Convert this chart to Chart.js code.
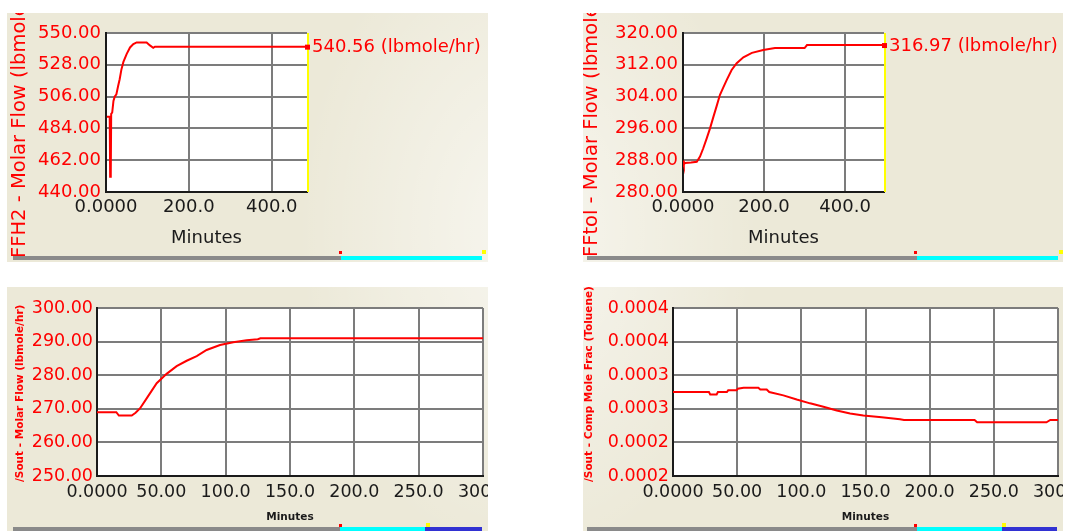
<!DOCTYPE html>
<html lang="en">
<head>
<meta charset="UTF-8">
<title>Strip charts - feed and product flows</title>
<script src="https://cdn.jsdelivr.net/npm/chart.js"></script>
<style>
  body {
    margin: 0;
    width: 1065px;
    height: 531px;
    overflow: hidden;
    position: relative;
    background: #ffffff;
  }
  /* beige strip-chart window, with the faint light sunburst behind the page */
  .panel {
    position: absolute;
    background:
      radial-gradient(ellipse 230px 330px at 528px 230px, rgba(255,255,255,0.6), rgba(255,255,255,0)) fixed,
      #ece9d8;
  }
  .panel canvas { display: block; }
</style>
</head>
<body>

<div class="panel" style="left:7px;top:13px;width:481px;height:249px">
  <canvas id="chartFFH2" width="481" height="249"></canvas>
</div>
<div class="panel" style="left:583px;top:13px;width:480px;height:249px">
  <canvas id="chartFFtol" width="480" height="249"></canvas>
</div>
<div class="panel" style="left:7px;top:287px;width:481px;height:244px">
  <canvas id="chartSoutFlow" width="481" height="244"></canvas>
</div>
<div class="panel" style="left:583px;top:287px;width:480px;height:244px">
  <canvas id="chartSoutTol" width="480" height="244"></canvas>
</div>

<script>
// ---- data (minutes vs. trend value) ----

// FFH2 molar flow, lbmole/hr
const ffh2Min  = [2, 5, 9, 10, 11.5, 12.5, 15, 18, 21, 25, 29, 33, 37, 42, 50, 58, 66, 74, 98, 106, 114, 118, 485];
const ffh2Flow = [492, 492, 492, 450.5, 452, 494, 495, 503, 506, 507.5, 513, 518, 524.5, 530, 535.6, 540, 542.3, 543.5, 543.5, 541.4, 539.8, 540.56, 540.56];

// FFtol molar flow, lbmole/hr
const fftolMin  = [0, 2, 5, 20, 34, 42, 50, 58.5, 66.7, 75, 83, 91, 99.5, 108, 120, 132.5, 149, 170, 198, 227, 300, 306, 496];
const fftolFlow = [287.9, 286.9, 287.3, 287.4, 287.6, 288.9, 291, 293.5, 296, 298.9, 301.6, 304.4, 306.3, 308.2, 310.7, 312.4, 313.9, 315, 315.7, 316.2, 316.2, 316.97, 316.97];

// Sout molar flow, lbmole/hr
const soutMin  = [0, 15, 17, 27, 30, 33.4, 38.6, 46.4, 54.1, 61.9, 69.7, 77.5, 85.2, 95.6, 105.9, 116.3, 125, 127, 300];
const soutFlow = [269, 269, 268, 268, 268.8, 270.1, 273.1, 277.6, 280.4, 282.7, 284.3, 285.7, 287.5, 289, 289.8, 290.4, 290.7, 291, 291];

// Sout toluene mole fraction
const tolMin  = [0, 28, 29, 34, 35, 42, 43, 49.6, 50.5, 55, 66.5, 68, 73, 75, 86, 96.4, 106.8, 117.2, 127.6, 138, 148.3, 162.6, 176.9, 180, 235, 237, 291, 294, 300];
const tolFrac = [0.0003, 0.0003, 0.000297, 0.000297, 0.0003, 0.0003, 0.000302, 0.000302, 0.000304, 0.000305, 0.000305, 0.000303, 0.000303, 0.0003, 0.000296, 0.000291, 0.0002865, 0.0002825, 0.000278, 0.0002745, 0.000272, 0.00027, 0.0002675, 0.0002667, 0.0002667, 0.000264, 0.000264, 0.0002667, 0.0002667];

// ---- axis ticks and their labels ----
const xTicksLong   = [0, 200, 400];
const xLabelsLong  = ['0.0000', '200.0', '400.0'];
const xTicksShort  = [0, 50, 100, 150, 200, 250, 300];
const xLabelsShort = ['0.0000', '50.00', '100.0', '150.0', '200.0', '250.0', '300.0'];

const ffh2Ticks   = [440, 462, 484, 506, 528, 550];
const ffh2Labels  = ['440.00', '462.00', '484.00', '506.00', '528.00', '550.00'];
const fftolTicks  = [280, 288, 296, 304, 312, 320];
const fftolLabels = ['280.00', '288.00', '296.00', '304.00', '312.00', '320.00'];
const soutTicks   = [250, 260, 270, 280, 290, 300];
const soutLabels  = ['250.00', '260.00', '270.00', '280.00', '290.00', '300.00'];
const tolTicks    = [0.0002, 0.00024, 0.00028, 0.00032, 0.00036, 0.0004];
const tolLabels   = ['0.0002', '0.0002', '0.0003', '0.0003', '0.0004', '0.0004'];

const RED = '#ff0000';
const GRID = '#7c7c7c';
const AXIS = '#1a1a1a';
const FONT = 'DejaVu Sans';

// white plot field, axis titles, live value readout and the scroll bar under each trend
const stripDecor = {
  id: 'stripDecor',
  beforeDraw(chart) {
    const {ctx, chartArea: a} = chart;
    ctx.save();
    ctx.fillStyle = '#ffffff';
    ctx.fillRect(a.left, a.top, a.right - a.left, a.bottom - a.top);
    ctx.restore();
  },
  afterDatasetsDraw(chart, args, o) {
    const {ctx, chartArea: a} = chart;
    if (!o.readout) return;
    const pts = chart.data.datasets[0].data;
    const last = pts[pts.length - 1].y;
    const py = chart.scales.y.getPixelForValue(last);
    ctx.save();
    // trend cursor at the right edge
    ctx.strokeStyle = '#ffff00';
    ctx.lineWidth = 2;
    ctx.beginPath();
    ctx.moveTo(a.right + 1, a.top);
    ctx.lineTo(a.right + 1, a.bottom);
    ctx.stroke();
    ctx.fillStyle = RED;
    ctx.fillRect(a.right - 2, py - 2, 5, 5);
    ctx.font = o.readoutSize + 'px "' + FONT + '"';
    ctx.textAlign = 'left';
    ctx.textBaseline = 'middle';
    ctx.fillText(last.toFixed(2) + ' ' + o.unit, a.right + 5, py + 1);
    ctx.restore();
  },
  afterDraw(chart, args, o) {
    const {ctx, chartArea: a} = chart;
    ctx.save();
    // y title runs upward from its start point, cut off by the window edge
    ctx.save();
    ctx.translate(o.yTitleX, o.yTitleStart);
    ctx.rotate(-Math.PI / 2);
    ctx.font = o.titleWeight + ' ' + o.yTitleSize + 'px "' + FONT + '"';
    ctx.fillStyle = RED;
    ctx.textAlign = 'left';
    ctx.textBaseline = 'middle';
    ctx.fillText(o.yTitle, 0, 0);
    ctx.restore();

    ctx.font = o.titleWeight + ' ' + o.xTitleSize + 'px "' + FONT + '"';
    ctx.fillStyle = AXIS;
    ctx.textAlign = 'center';
    ctx.textBaseline = 'middle';
    ctx.fillText('Minutes', (a.left + a.right) / 2, o.xTitleY);

    // scroll bar
    o.bar.forEach(s => {
      ctx.fillStyle = s[2];
      ctx.fillRect(s[0], o.barY, s[1] - s[0], o.barH);
    });
    ctx.fillStyle = RED;
    ctx.fillRect(o.redMark[0], o.redMark[1], 3, 3);
    ctx.fillStyle = '#ffff00';
    ctx.fillRect(o.yellowMark[0], o.yellowMark[1], 4, 4);
    ctx.restore();
  }
};

function stripChart(id, s) {
  const canvas = document.getElementById(id);
  const W = canvas.width, H = canvas.height;
  const p = s.plot; // left, top, right, bottom of the plot field inside the canvas
  const gridColor = c => (c.index === 0 ? 'rgba(0,0,0,0)' : GRID);

  return new Chart(canvas, {
    type: 'line',
    data: {
      datasets: [{
        data: s.x.map((m, i) => ({x: m, y: s.y[i]})),
        borderColor: RED,
        borderWidth: 2,
        pointRadius: 0,
        tension: 0,
        fill: false
      }]
    },
    options: {
      responsive: false,
      animation: false,
      events: [],
      layout: {padding: {left: 0, top: p[1], right: W - p[2], bottom: 0}},
      plugins: {
        legend: {display: false},
        tooltip: {enabled: false},
        stripDecor: s.decor
      },
      scales: {
        x: {
          type: 'linear',
          min: 0,
          max: s.xMax,
          afterBuildTicks: sc => { sc.ticks = s.xTicks.map(v => ({value: v})); },
          afterFit: sc => { sc.height = H - p[3]; sc.paddingLeft = 0; sc.paddingRight = 0; },
          ticks: {
            autoSkip: false,
            maxRotation: 0,
            color: AXIS,
            padding: s.xPad,
            font: {family: FONT, size: s.tickSize},
            callback: (v, i) => s.xLabels[i]
          },
          grid: {color: gridColor, lineWidth: 2, drawTicks: false},
          border: {color: AXIS, width: 2}
        },
        y: {
          type: 'linear',
          min: s.yTicks[0],
          max: s.yTicks[s.yTicks.length - 1],
          afterBuildTicks: sc => { sc.ticks = s.yTicks.map(v => ({value: v})); },
          afterFit: sc => { sc.width = p[0]; sc.paddingTop = 0; sc.paddingBottom = 0; },
          ticks: {
            autoSkip: false,
            color: RED,
            padding: s.yPad,
            font: {family: FONT, size: s.tickSize},
            callback: (v, i) => s.yLabels[i]
          },
          grid: {color: gridColor, lineWidth: 2, drawTicks: false},
          border: {color: AXIS, width: 2}
        }
      }
    },
    plugins: [stripDecor]
  });
}

const longBar = (x0, x1) => [[x0, 334, '#8a8a8a'], [334, x1, '#00ffff']];

stripChart('chartFFH2', {
  x: ffh2Min, y: ffh2Flow, xMax: 485,
  xTicks: xTicksLong, xLabels: xLabelsLong,
  yTicks: ffh2Ticks, yLabels: ffh2Labels,
  plot: [99, 20, 300, 179], tickSize: 18, xPad: 5, yPad: 5,
  decor: {
    yTitle: 'FFH2 - Molar Flow (lbmole/hr)', yTitleX: 12.5, yTitleStart: 245, yTitleSize: 19.5,
    xTitleY: 225, xTitleSize: 18, titleWeight: 'normal',
    readout: true, readoutSize: 18, unit: '(lbmole/hr)',
    bar: longBar(6, 475), barY: 243, barH: 4,
    redMark: [332, 238], yellowMark: [475, 237]
  }
});

stripChart('chartFFtol', {
  x: fftolMin, y: fftolFlow, xMax: 496,
  xTicks: xTicksLong, xLabels: xLabelsLong,
  yTicks: fftolTicks, yLabels: fftolLabels,
  plot: [100, 20, 301, 179], tickSize: 18, xPad: 5, yPad: 5,
  decor: {
    yTitle: 'FFtol - Molar Flow (lbmole/hr)', yTitleX: 8.5, yTitleStart: 244, yTitleSize: 19.5,
    xTitleY: 225, xTitleSize: 18, titleWeight: 'normal',
    readout: true, readoutSize: 18, unit: '(lbmole/hr)',
    bar: longBar(4, 475), barY: 243, barH: 4,
    redMark: [331, 238], yellowMark: [476, 237]
  }
});

stripChart('chartSoutFlow', {
  x: soutMin, y: soutFlow, xMax: 300,
  xTicks: xTicksShort, xLabels: xLabelsShort,
  yTicks: soutTicks, yLabels: soutLabels,
  plot: [90, 21, 476, 189], tickSize: 17.5, xPad: 6, yPad: 4,
  decor: {
    yTitle: '/Sout - Molar Flow (lbmole/hr)', yTitleX: 13, yTitleStart: 195, yTitleSize: 10.5,
    xTitleY: 230, xTitleSize: 10.5, titleWeight: 'bold',
    readout: false,
    bar: [[6, 333, '#8a8a8a'], [333, 418, '#00ffff'], [418, 475, '#3232d2']], barY: 240, barH: 4,
    redMark: [332, 237], yellowMark: [419, 236]
  }
});

stripChart('chartSoutTol', {
  x: tolMin, y: tolFrac, xMax: 300,
  xTicks: xTicksShort, xLabels: xLabelsShort,
  yTicks: tolTicks, yLabels: tolLabels,
  plot: [90, 21, 475, 189], tickSize: 17.5, xPad: 6, yPad: 4,
  decor: {
    yTitle: '/Sout - Comp Mole Frac (Toluene)', yTitleX: 6.5, yTitleStart: 195, yTitleSize: 10.5,
    xTitleY: 230.5, xTitleSize: 10.5, titleWeight: 'bold',
    readout: false,
    bar: [[4, 334, '#8a8a8a'], [334, 419, '#00ffff'], [419, 474, '#3232d2']], barY: 240, barH: 4,
    redMark: [331, 237], yellowMark: [419, 236]
  }
});
</script>
</body>
</html>
